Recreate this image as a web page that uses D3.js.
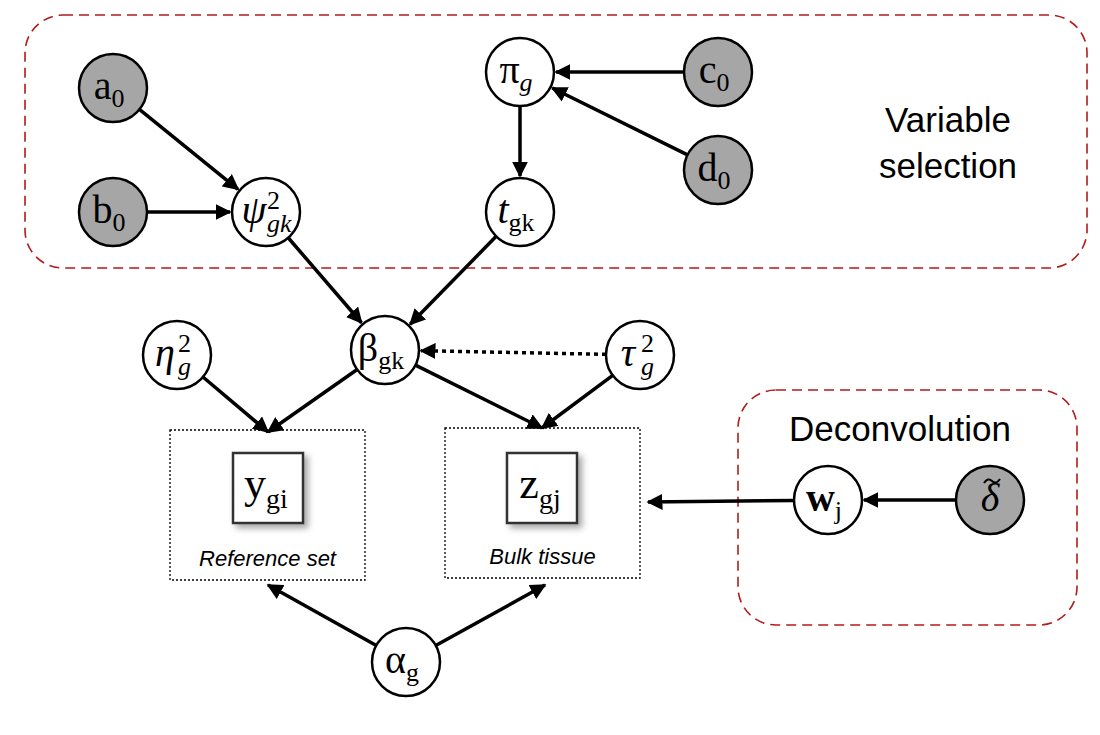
<!DOCTYPE html>
<html><head><meta charset="utf-8">
<script src="https://cdn.jsdelivr.net/npm/d3@7"></script>
<style>
body{margin:0;background:#fff}
svg{display:block}
</style></head>
<body><svg id="chart" width="1100" height="735"></svg>
<script>
// Nodes
const nodeIds    = ['a0','b0','psi','pi','t','c0','d0','beta','eta','tau','alpha','w','delta'];
const nodeX      = [113, 113, 266, 520, 520, 718, 718, 385, 177, 640, 406, 828, 990];
const nodeY      = [ 88, 212, 212,  72, 212,  72, 170, 350, 355, 355, 662, 500, 500];
const nodeShaded = [true,true,false,false,false,true,true,false,false,false,false,false,true];
const nodeMain   = ['a','b','ψ','π','t','c','d','β','η','τ','α','w','δ'];
const nodeSub    = ['0','0','gk','g','gk','0','0','gk','g','g','g','j',''];
const nodeSup    = ['','','2','','','','','','2','2','','',''];
const mainItalic = [false,false,true,false,true,false,false,false,true,true,false,false,true];
const subItalic  = [false,false,true,true,false,false,false,false,true,true,false,false,false];

// Observed data squares
const obsMain = ['y','z'];
const obsSub  = ['gi','gj'];
const obsX    = [268, 542];
const obsY    = [488, 488];
const obsCaption = ['Reference set','Bulk tissue'];
const plateX = [170, 445], plateY = [430, 428], plateW = [195, 195], plateH = [150, 150];

// Edges
const edges = [
  ['a0','psi',false],['b0','psi',false],['c0','pi',false],['d0','pi',false],
  ['pi','t',false],['psi','beta',false],['t','beta',false],['tau','beta',true],
  ['eta','refTop',false],['beta','refTop',false],['beta','bulkTop',false],['tau','bulkTop',false],
  ['alpha','refBot',false],['alpha','bulkBot',false],['w','bulkRight',false],['delta','w',false]
];
const anchors = {refTop:[268,432], bulkTop:[542,428], refBot:[268,585], bulkBot:[545,585], bulkRight:[648,502]};

// Group boxes
const groupLabel = [['Variable','selection'],['Deconvolution']];
const groupX = [25, 738], groupY = [15, 390], groupW = [1062, 339], groupH = [253, 235];

const R = 34;
const svg = d3.select('#chart');
const defs = svg.append('defs');
defs.append('marker').attr('id','arr').attr('viewBox','0 -5 10 10')
  .attr('refX',9).attr('refY',0).attr('markerWidth',4.6).attr('markerHeight',4.6)
  .attr('markerUnits','strokeWidth').attr('orient','auto')
  .append('path').attr('d','M0,-5L10,0L0,5Z').attr('fill','#000');
const f = defs.append('filter').attr('id','sh').attr('x','-30%').attr('y','-30%').attr('width','170%').attr('height','170%');
f.append('feDropShadow').attr('dx',4).attr('dy',4).attr('stdDeviation',3).attr('flood-color','#000').attr('flood-opacity',0.35);

const pos = {};
nodeIds.forEach((id,i) => pos[id] = [nodeX[i], nodeY[i]]);

groupX.forEach((x,i) => {
  svg.append('rect').attr('x',x).attr('y',groupY[i]).attr('width',groupW[i]).attr('height',groupH[i])
    .attr('rx',38).attr('fill','none').attr('stroke','#b01c1c').attr('stroke-width',1.6).attr('stroke-dasharray','10,6');
});
svg.append('text').attr('x',948).attr('y',132).attr('text-anchor','middle')
  .attr('font-family','Liberation Sans, Arial').attr('font-size',35)
  .selectAll('tspan').data(groupLabel[0]).join('tspan')
  .attr('x',948).attr('dy',(d,i)=> i ? 46 : 0).text(d=>d);
svg.append('text').attr('x',900).attr('y',441).attr('text-anchor','middle')
  .attr('font-family','Liberation Sans, Arial').attr('font-size',35).text(groupLabel[1][0]);

plateX.forEach((x,i) => {
  svg.append('rect').attr('x',x).attr('y',plateY[i]).attr('width',plateW[i]).attr('height',plateH[i])
    .attr('fill','none').attr('stroke','#000').attr('stroke-width',1.3).attr('stroke-dasharray','2,2');
  svg.append('text').attr('x',x+plateW[i]/2).attr('y',plateY[i]+136).attr('text-anchor','middle')
    .attr('font-family','Liberation Sans, Arial').attr('font-style','italic').attr('font-size',22).text(obsCaption[i]);
});
obsX.forEach((x,i) => {
  svg.append('rect').attr('x',x-35).attr('y',obsY[i]-35).attr('width',70).attr('height',70)
    .attr('fill','#fff').attr('stroke','#333').attr('stroke-width',2.5).attr('filter','url(#sh)');
  const t = svg.append('text').attr('x',x-2).attr('y',obsY[i]+10).attr('text-anchor','middle')
    .attr('font-family','Liberation Serif, serif').attr('font-size',44);
  t.append('tspan').text(obsMain[i]);
  t.append('tspan').attr('font-size',28).attr('dy',10).text(obsSub[i]);
});

edges.forEach(([s,tg,dot]) => {
  const [x1,y1] = pos[s];
  const targetIsNode = pos[tg] !== undefined;
  const [x2,y2] = targetIsNode ? pos[tg] : anchors[tg];
  const dx = x2-x1, dy = y2-y1, L = Math.hypot(dx,dy);
  const ux = dx/L, uy = dy/L;
  const e = targetIsNode ? R+2 : 0;
  svg.append('line').attr('x1',x1+ux*R).attr('y1',y1+uy*R).attr('x2',x2-ux*e).attr('y2',y2-uy*e)
    .attr('stroke','#000').attr('stroke-width',3.5).attr('stroke-dasharray',dot?'4,4':null)
    .attr('marker-end','url(#arr)');
});

const g = svg.selectAll('g.node').data(nodeIds).join('g').attr('class','node')
  .attr('transform',(d,i)=>`translate(${nodeX[i]},${nodeY[i]})`);
g.append('circle').attr('r',R).attr('fill',(d,i)=>nodeShaded[i]?'#a6a6a6':'#fff')
  .attr('stroke','#000').attr('stroke-width',2.5);
g.each(function(d,i){
  const sel = d3.select(this);
  const stacked = !!nodeSup[i];
  const t = sel.append('text').attr('text-anchor','middle').attr('y',11)
    .attr('x', stacked ? -12 : (nodeSub[i] ? -4 : 0))
    .attr('font-family','Liberation Serif, serif').attr('font-size',40);
  t.append('tspan').attr('font-style',mainItalic[i]?'italic':null)
    .attr('font-weight',nodeIds[i]==='w'?'bold':null).text(nodeMain[i]);
  if (stacked) {
    sel.append('text').attr('x',1).attr('y',-3).attr('font-family','Liberation Serif, serif')
      .attr('font-size',26).text(nodeSup[i]);
    sel.append('text').attr('x',1).attr('y',20).attr('font-family','Liberation Serif, serif')
      .attr('font-size',26).attr('font-style',subItalic[i]?'italic':null).text(nodeSub[i]);
  } else if (nodeSub[i]) {
    t.append('tspan').attr('font-size',26).attr('dy',8)
      .attr('font-style',subItalic[i]?'italic':null).text(nodeSub[i]);
  }
  if (nodeIds[i]==='delta') {
    sel.append('path').attr('d','M-6,-17 Q-2,-23 2,-19 T10,-21')
      .attr('fill','none').attr('stroke','#000').attr('stroke-width',2);
  }
});
</script></body></html>
